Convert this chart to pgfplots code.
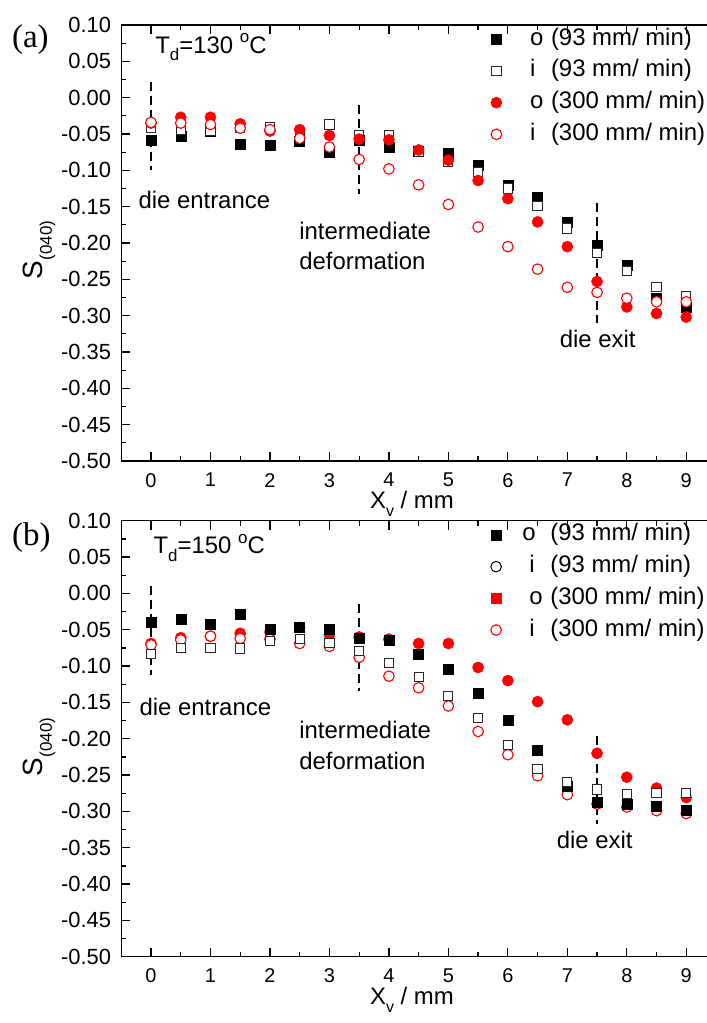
\documentclass[border=0pt]{standalone}
\usepackage{fontspec}
\setmainfont{Liberation Sans}
\newfontfamily\timesf{Liberation Serif}
\usepackage{pgfplots}
\usepackage{pgfplotstable}
\pgfplotsset{compat=1.18}

\pgfplotstableread{
x    o93    i93    o300   i300
0    -0.058 -0.041 -0.035 -0.034
0.5  -0.053 -0.045 -0.027 -0.035
1    -0.046 -0.046 -0.027 -0.037
1.5  -0.064 -0.042 -0.036 -0.042
2    -0.065 -0.041 -0.046 -0.044
2.5  -0.060 -0.048 -0.044 -0.056
3    -0.075 -0.037 -0.052 -0.068
3.5  -0.059 -0.051 -0.057 -0.085
4    -0.068 -0.051 -0.058 -0.098
4.5  -0.074 -0.075 -0.072 -0.120
5    -0.076 -0.088 -0.086 -0.147
5.5  -0.093 -0.102 -0.114 -0.178
6    -0.121 -0.125 -0.139 -0.205
6.5  -0.137 -0.149 -0.171 -0.236
7    -0.171 -0.180 -0.205 -0.261
7.5  -0.203 -0.214 -0.253 -0.268
8    -0.230 -0.239 -0.288 -0.276
8.5  -0.276 -0.261 -0.297 -0.281
9    -0.288 -0.273 -0.302 -0.281
}\dataA

\pgfplotstableread{
x    o93    i93    o300   i300
0    -0.040 -0.083 -0.069 -0.071
0.5  -0.036 -0.075 -0.061 -0.064
1    -0.043 -0.075 -0.059 -0.059
1.5  -0.029 -0.076 -0.055 -0.062
2    -0.050 -0.066 -0.053 -0.063
2.5  -0.047 -0.063 -0.047 -0.069
3    -0.049 -0.068 -0.057 -0.073
3.5  -0.062 -0.079 -0.060 -0.088
4    -0.064 -0.096 -0.063 -0.114
4.5  -0.084 -0.115 -0.069 -0.130
5    -0.104 -0.141 -0.069 -0.155
5.5  -0.138 -0.172 -0.102 -0.190
6    -0.174 -0.209 -0.120 -0.222
6.5  -0.216 -0.242 -0.149 -0.251
7    -0.265 -0.260 -0.174 -0.277
7.5  -0.288 -0.270 -0.220 -0.290
8    -0.290 -0.276 -0.253 -0.294
8.5  -0.293 -0.275 -0.268 -0.299
9    -0.298 -0.275 -0.281 -0.303
}\dataB

\definecolor{pred}{RGB}{255,0,0}

\tikzset{annot/.style={font=\fontsize{24}{26}\selectfont, inner sep=0pt}}

\pgfplotsset{
  myaxis/.style={
    scale only axis, width=594.75bp, height=436bp,
    anchor=south west,
    xmin=-0.5, xmax=9.5, ymin=-0.5, ymax=0.1,
    xtick={0,1,...,9}, minor x tick num=1,
    ytick={-0.5,-0.45,...,0.1}, minor y tick num=1,
    yticklabels={-0.50,-0.45,-0.40,-0.35,-0.30,-0.25,-0.20,-0.15,-0.10,-0.05,0.00,0.05,0.10},
    tick align=inside, xtick pos=both, ytick pos=left,
    xticklabel pos=lower,
    major tick length=9bp, minor tick length=5bp,
    axis line style={line width=1.5bp}, every tick/.style={line width=1.3bp, black},
    yticklabel style={inner sep=0pt, xshift=-10bp, font=\fontsize{22}{24}\selectfont},
    xticklabel style={inner sep=0pt, yshift=-12bp, font=\fontsize{20}{22}\selectfont},
    /pgf/number format/assume math mode=true,
    clip=false,
    legend cell align=left,
    legend image code/.code={\draw[##1] plot coordinates {(5bp,0bp)};},
    legend style={draw=none, fill=none, anchor=north west,
      font=\fontsize{24}{26}\selectfont,
      nodes={inner sep=0pt, text height=17bp, text depth=5bp},
      row sep=9.7bp,
      /tikz/every odd column/.append style={column sep=28bp}},
  },
  ofs/.style={only marks, mark=square*, mark size=5bp, mark options={fill=black, draw=black}},
  ois/.style={only marks, mark=square*, mark size=4.6bp, mark options={fill=white, draw=black!85, line width=1bp}},
  ofc/.style={only marks, mark=*, mark size=5.6bp, mark options={fill=pred, draw=pred}},
  oic/.style={only marks, mark=*, mark size=5.3bp, mark options={fill=white, draw=pred, line width=1.1bp}},
  dline/.style={black, line width=2bp, dash pattern=on 9bp off 5bp, forget plot},
}

\newcommand\lgt[2]{\makebox[21bp][l]{#1}(#2 mm/ min)}

\begin{document}
\begin{tikzpicture}[x=1bp,y=1bp]
% panel (a)
\begin{axis}[myaxis, at={(121.25bp,562bp)},
  legend style={at={(axis cs:5.66,0.0985)}}]
\addplot[ofs] table[x=x,y=o93]{\dataA};
\addplot[ois] table[x=x,y=i93]{\dataA};
\addplot[ofc] table[x=x,y=o300]{\dataA};
\addplot[oic] table[x=x,y=i300]{\dataA};
\addplot[dline] coordinates {(0,0.022) (0,-0.100)};
\addplot[dline] coordinates {(3.5,-0.010) (3.5,-0.132)};
\addplot[dline] coordinates {(7.5,-0.145) (7.5,-0.310)};
\legend{\lgt{o}{93},\lgt{i}{93},\lgt{o}{300},\lgt{i}{300}}
\node[annot, anchor=west] at (axis cs:0.07,0.070) {T\raisebox{-0.3em}{\fontsize{17}{17}\selectfont d}=130 \raisebox{0.45em}{\fontsize{17}{17}\selectfont o}C};
\node[annot, anchor=base west] at (axis cs:-0.213,-0.153) {die entrance};
\node[annot, anchor=base west] at (axis cs:2.49,-0.195) {intermediate};
\node[annot, anchor=base west] at (axis cs:2.49,-0.236) {deformation};
\node[annot, anchor=base west] at (axis cs:6.87,-0.344) {die exit};
\end{axis}
% panel (b)
\begin{axis}[myaxis, at={(121.25bp,66.3bp)},
  legend style={at={(axis cs:5.66,0.0985)}}]
\addplot[ofc, forget plot] table[x=x,y=o300]{\dataB};
\addplot[oic, forget plot] table[x=x,y=i300]{\dataB};
\addplot[ofs, forget plot] table[x=x,y=o93]{\dataB};
\addplot[ois, forget plot] table[x=x,y=i93]{\dataB};
\addplot[dline] coordinates {(0,0.010) (0,-0.113)};
\addplot[dline] coordinates {(3.5,-0.014) (3.5,-0.135)};
\addplot[dline] coordinates {(7.5,-0.196) (7.5,-0.317)};
\addlegendimage{ofs}
\addlegendentry{\makebox[21bp][l]{\hspace{-7bp}o}(93 mm/ min)}
\addlegendimage{only marks, mark=o, mark size=5.3bp, mark options={draw=black, line width=1bp}}
\addlegendentry{\lgt{i}{93}}
\addlegendimage{only marks, mark=square*, mark size=5bp, mark options={fill=pred, draw=pred}}
\addlegendentry{\lgt{o}{300}}
\addlegendimage{oic}
\addlegendentry{\lgt{i}{300}}
\node[annot, anchor=west] at (axis cs:0.04,0.063) {T\raisebox{-0.3em}{\fontsize{17}{17}\selectfont d}=150 \raisebox{0.45em}{\fontsize{17}{17}\selectfont o}C};
\node[annot, anchor=base west] at (axis cs:-0.196,-0.168) {die entrance};
\node[annot, anchor=base west] at (axis cs:2.49,-0.200) {intermediate};
\node[annot, anchor=base west] at (axis cs:2.49,-0.242) {deformation};
\node[annot, anchor=base west] at (axis cs:6.82,-0.351) {die exit};
\end{axis}
% labels
\node[font=\timesf\fontsize{33}{35}\selectfont, anchor=west, inner sep=0pt] at (12bp,983bp) {(a)};
\node[font=\timesf\fontsize{33}{35}\selectfont, anchor=west, inner sep=0pt] at (12bp,485bp) {(b)};
\node[rotate=90, anchor=base, inner sep=0pt, font=\fontsize{28}{30}\selectfont] at (42bp,773bp) {S\raisebox{-0.35em}{\fontsize{17}{17}\selectfont(040)}};
\node[rotate=90, anchor=base, inner sep=0pt, font=\fontsize{28}{30}\selectfont] at (42bp,276bp) {S\raisebox{-0.35em}{\fontsize{17}{17}\selectfont(040)}};
\node[anchor=base, inner sep=0pt, font=\fontsize{24}{26}\selectfont] at (412bp,514.5bp) {X\raisebox{-0.35em}{\fontsize{16}{16}\selectfont v} / mm};
\node[anchor=base, inner sep=0pt, font=\fontsize{24}{26}\selectfont] at (412bp,18.8bp) {X\raisebox{-0.35em}{\fontsize{16}{16}\selectfont v} / mm};
\pgfresetboundingbox
\useasboundingbox (0bp,0bp) rectangle (707bp,1023bp);
\end{tikzpicture}
\end{document}
